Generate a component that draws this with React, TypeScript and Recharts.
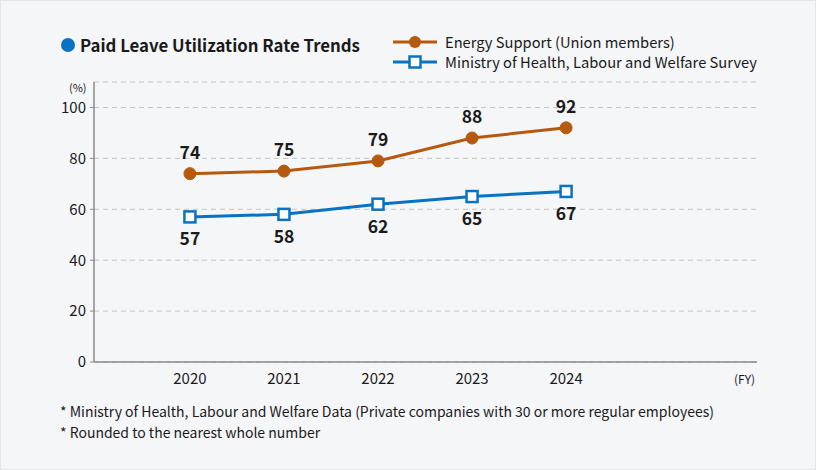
import { LineChart, Line, XAxis, YAxis, CartesianGrid, LabelList } from 'recharts'

const years = [2020, 2021, 2022, 2023, 2024]
const energySupport = [74, 75, 79, 88, 92]
const mhlwSurvey = [57, 58, 62, 65, 67]
const yTicks = [0, 20, 40, 60, 80, 100]

const ORANGE = '#b5590f'
const BLUE = '#0a72c2'
const FONT = '"Noto Sans CJK JP", "Noto Sans", sans-serif'

const data = years.map((year, i) => ({
  year,
  energy: energySupport[i],
  mhlw: mhlwSurvey[i],
}))

const SquareDot = (props: any) => {
  const { cx, cy } = props
  if (cx == null || cy == null) return null
  return <rect x={cx - 5.5} y={cy - 5.5} width={11} height={11} fill="#fff" stroke={BLUE} strokeWidth={2.5} />
}

export default function App() {
  return (
    <div
      style={{
        position: 'fixed',
        top: 0,
        left: 0,
        width: 816,
        height: 470,
        boxSizing: 'border-box',
        background: '#f5f6f8',
        border: '1px solid #e4e5e7',
        fontFamily: FONT,
        color: '#1a1a1a',
      }}
    >
      <div style={{ position: 'absolute', left: -1, top: -1 }}>
        <LineChart width={816} height={470} data={data} margin={{ top: 82, right: 59, bottom: 78, left: 0 }}>
          <CartesianGrid vertical={false} stroke="#c4c4c4" strokeDasharray="5 4" />
          <XAxis
            dataKey="year"
            type="number"
            domain={[2018.98, 2026.03]}
            ticks={years}
            tickLine={false}
            axisLine={{ stroke: '#8a8a8a', strokeWidth: 1.5 }}
            tick={{ fill: '#1a1a1a', fontSize: 15, fontFamily: FONT }}
            tickMargin={5}
            height={30}
          />
          <YAxis
            domain={[0, 110]}
            ticks={yTicks}
            width={94}
            tickSize={4}
            tickMargin={4}
            tickLine={{ stroke: '#8a8a8a' }}
            axisLine={{ stroke: '#8a8a8a', strokeWidth: 1.5 }}
            tick={{ fill: '#1a1a1a', fontSize: 15, fontFamily: FONT }}
          />
          <Line
            dataKey="energy"
            stroke={ORANGE}
            strokeWidth={3}
            dot={{ r: 6, fill: ORANGE, stroke: ORANGE, strokeWidth: 1 }}
            isAnimationActive={false}
          >
            <LabelList dataKey="energy" position="top" offset={15} fill="#1a1a1a" fontSize={17.5} fontWeight={700} fontFamily={FONT} />
          </Line>
          <Line
            dataKey="mhlw"
            stroke={BLUE}
            strokeWidth={3}
            dot={<SquareDot />}
            isAnimationActive={false}
          >
            <LabelList dataKey="mhlw" position="bottom" offset={16} fill="#1a1a1a" fontSize={17.5} fontWeight={700} fontFamily={FONT} />
          </Line>
        </LineChart>
      </div>

      {/* title */}
      <div style={{ position: 'absolute', left: 60, top: 33, display: 'flex', alignItems: 'center' }}>
        <span style={{ display: 'inline-block', width: 14, height: 14, borderRadius: '50%', background: BLUE, marginRight: 5 }} />
        <span style={{ fontSize: 16.8, fontWeight: 700, lineHeight: '22px' }}>Paid Leave Utilization Rate Trends</span>
      </div>

      {/* legend */}
      <div style={{ position: 'absolute', left: 392, top: 31, fontSize: 14.7, lineHeight: '20px' }}>
        <div style={{ display: 'flex', alignItems: 'center' }}>
          <svg width={44} height={20}>
            <line x1={0} y1={10} x2={44} y2={10} stroke={ORANGE} strokeWidth={3} />
            <circle cx={22} cy={10} r={6} fill={ORANGE} />
          </svg>
          <span style={{ marginLeft: 8 }}>Energy Support (Union members)</span>
        </div>
        <div style={{ display: 'flex', alignItems: 'center' }}>
          <svg width={44} height={20}>
            <line x1={0} y1={10} x2={44} y2={10} stroke={BLUE} strokeWidth={3} />
            <rect x={16.5} y={4.5} width={11} height={11} fill="#fff" stroke={BLUE} strokeWidth={2.5} />
          </svg>
          <span style={{ marginLeft: 8 }}>Ministry of Health, Labour and Welfare Survey</span>
        </div>
      </div>

      {/* axis units */}
      <div style={{ position: 'absolute', left: 68, top: 78, fontSize: 11 }}>(%)</div>
      <div style={{ position: 'absolute', left: 733, top: 369, fontSize: 12 }}>(FY)</div>

      {/* footnotes */}
      <div style={{ position: 'absolute', left: 59, top: 400, fontSize: 14, lineHeight: '21px' }}>
        <div>* Ministry of Health, Labour and Welfare Data (Private companies with 30 or more regular employees)</div>
        <div>* Rounded to the nearest whole number</div>
      </div>
    </div>
  )
}
